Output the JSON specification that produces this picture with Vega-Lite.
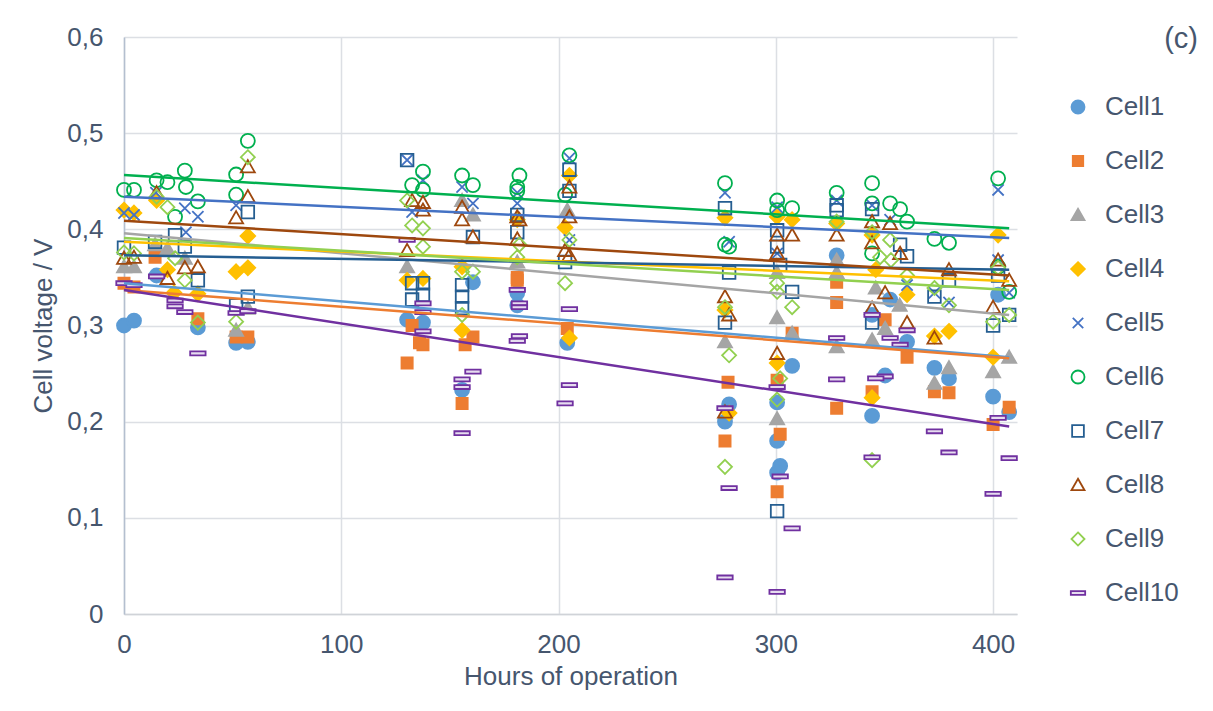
{
"$schema": "https://vega.github.io/schema/vega-lite/v6.json",
"width": 893, "height": 577,
"autosize": {"type": "none"},
"padding": {"left": 124, "top": 37, "right": 196, "bottom": 97},
"background": "white",
"title": {"text": "(c)", "anchor": "end", "frame": "group", "dx": 181, "dy": 34, "fontSize": 29, "font": "Liberation Sans", "fontWeight": "normal", "color": "#46566e"},
"config": {"view": {"stroke": null}, "font": "Liberation Sans"},
"datasets": {
"pts": [
{"c":"Cell1","h":0,"v":0.300},{"c":"Cell1","h":4.6,"v":0.305},{"c":"Cell1","h":15,"v":0.352},{"c":"Cell1","h":34,"v":0.298},{"c":"Cell1","h":51.6,"v":0.282},{"c":"Cell1","h":57,"v":0.283},{"c":"Cell1","h":130.3,"v":0.306},{"c":"Cell1","h":137.6,"v":0.303},{"c":"Cell1","h":155.6,"v":0.233},{"c":"Cell1","h":160.6,"v":0.345},{"c":"Cell1","h":181,"v":0.334},{"c":"Cell1","h":181,"v":0.321},{"c":"Cell1","h":204,"v":0.282},{"c":"Cell1","h":276.6,"v":0.2},{"c":"Cell1","h":278.5,"v":0.218},{"c":"Cell1","h":300.6,"v":0.22},{"c":"Cell1","h":300.6,"v":0.18},{"c":"Cell1","h":302,"v":0.154},{"c":"Cell1","h":300.6,"v":0.147},{"c":"Cell1","h":307.5,"v":0.258},{"c":"Cell1","h":328,"v":0.373},{"c":"Cell1","h":344.3,"v":0.311},{"c":"Cell1","h":344.3,"v":0.206},{"c":"Cell1","h":352.6,"v":0.327},{"c":"Cell1","h":350.3,"v":0.248},{"c":"Cell1","h":360.4,"v":0.283},{"c":"Cell1","h":373,"v":0.256},{"c":"Cell1","h":379.7,"v":0.245},{"c":"Cell1","h":402.3,"v":0.332},{"c":"Cell1","h":400,"v":0.226},{"c":"Cell1","h":407.4,"v":0.21},
{"c":"Cell2","h":0,"v":0.344},{"c":"Cell2","h":4.6,"v":0.340},{"c":"Cell2","h":14.3,"v":0.371},{"c":"Cell2","h":34,"v":0.307},{"c":"Cell2","h":51.6,"v":0.288},{"c":"Cell2","h":57,"v":0.288},{"c":"Cell2","h":132.6,"v":0.300},{"c":"Cell2","h":130.3,"v":0.261},{"c":"Cell2","h":136,"v":0.282},{"c":"Cell2","h":137.6,"v":0.280},{"c":"Cell2","h":155.6,"v":0.219},{"c":"Cell2","h":157,"v":0.280},{"c":"Cell2","h":160.6,"v":0.288},{"c":"Cell2","h":181,"v":0.350},{"c":"Cell2","h":181,"v":0.347},{"c":"Cell2","h":204,"v":0.297},{"c":"Cell2","h":278,"v":0.241},{"c":"Cell2","h":276.6,"v":0.180},{"c":"Cell2","h":300.6,"v":0.243},{"c":"Cell2","h":302,"v":0.187},{"c":"Cell2","h":300.6,"v":0.127},{"c":"Cell2","h":307.5,"v":0.292},{"c":"Cell2","h":328,"v":0.345},{"c":"Cell2","h":328,"v":0.324},{"c":"Cell2","h":328,"v":0.214},{"c":"Cell2","h":344.3,"v":0.231},{"c":"Cell2","h":350.3,"v":0.306},{"c":"Cell2","h":360.4,"v":0.267},{"c":"Cell2","h":373,"v":0.231},{"c":"Cell2","h":379.7,"v":0.230},{"c":"Cell2","h":400,"v":0.197},{"c":"Cell2","h":407.4,"v":0.215},
{"c":"Cell3","h":0,"v":0.361},{"c":"Cell3","h":4.6,"v":0.361},{"c":"Cell3","h":14.3,"v":0.384},{"c":"Cell3","h":20,"v":0.38},{"c":"Cell3","h":28,"v":0.37},{"c":"Cell3","h":51.6,"v":0.295},{"c":"Cell3","h":57,"v":0.318},{"c":"Cell3","h":130.3,"v":0.361},{"c":"Cell3","h":155.6,"v":0.430},{"c":"Cell3","h":160.6,"v":0.415},{"c":"Cell3","h":181,"v":0.366},{"c":"Cell3","h":204,"v":0.42},{"c":"Cell3","h":276.6,"v":0.283},{"c":"Cell3","h":300.6,"v":0.355},{"c":"Cell3","h":300.6,"v":0.308},{"c":"Cell3","h":300.6,"v":0.203},{"c":"Cell3","h":307.5,"v":0.292},{"c":"Cell3","h":328,"v":0.368},{"c":"Cell3","h":328,"v":0.355},{"c":"Cell3","h":328,"v":0.278},{"c":"Cell3","h":346,"v":0.339},{"c":"Cell3","h":357,"v":0.321},{"c":"Cell3","h":350.3,"v":0.297},{"c":"Cell3","h":344.3,"v":0.285},{"c":"Cell3","h":373,"v":0.240},{"c":"Cell3","h":379.7,"v":0.256},{"c":"Cell3","h":400,"v":0.252},{"c":"Cell3","h":407.4,"v":0.267},
{"c":"Cell4","h":0,"v":0.420},{"c":"Cell4","h":4.6,"v":0.417},{"c":"Cell4","h":15,"v":0.43},{"c":"Cell4","h":20,"v":0.358},{"c":"Cell4","h":23,"v":0.334},{"c":"Cell4","h":34,"v":0.333},{"c":"Cell4","h":51.6,"v":0.356},{"c":"Cell4","h":57,"v":0.360},{"c":"Cell4","h":57,"v":0.393},{"c":"Cell4","h":130.3,"v":0.347},{"c":"Cell4","h":137.6,"v":0.349},{"c":"Cell4","h":155.6,"v":0.361},{"c":"Cell4","h":155.6,"v":0.295},{"c":"Cell4","h":181,"v":0.41},{"c":"Cell4","h":203,"v":0.402},{"c":"Cell4","h":205,"v":0.456},{"c":"Cell4","h":205,"v":0.287},{"c":"Cell4","h":276.6,"v":0.412},{"c":"Cell4","h":276.6,"v":0.316},{"c":"Cell4","h":278.5,"v":0.209},{"c":"Cell4","h":300.6,"v":0.413},{"c":"Cell4","h":307.5,"v":0.41},{"c":"Cell4","h":300.6,"v":0.261},{"c":"Cell4","h":328,"v":0.406},{"c":"Cell4","h":344.3,"v":0.394},{"c":"Cell4","h":346,"v":0.358},{"c":"Cell4","h":360.4,"v":0.332},{"c":"Cell4","h":344.3,"v":0.225},{"c":"Cell4","h":373,"v":0.289},{"c":"Cell4","h":379.7,"v":0.294},{"c":"Cell4","h":402.3,"v":0.394},{"c":"Cell4","h":400,"v":0.267},
{"c":"Cell5","h":0,"v":0.417},{"c":"Cell5","h":4.6,"v":0.415},{"c":"Cell5","h":14.7,"v":0.438},{"c":"Cell5","h":28,"v":0.422},{"c":"Cell5","h":34,"v":0.413},{"c":"Cell5","h":28.5,"v":0.397},{"c":"Cell5","h":51.6,"v":0.425},{"c":"Cell5","h":130.3,"v":0.472},{"c":"Cell5","h":132.6,"v":0.418},{"c":"Cell5","h":137.6,"v":0.451},{"c":"Cell5","h":155.6,"v":0.444},{"c":"Cell5","h":160.6,"v":0.427},{"c":"Cell5","h":181,"v":0.438},{"c":"Cell5","h":181,"v":0.427},{"c":"Cell5","h":205,"v":0.474},{"c":"Cell5","h":205,"v":0.389},{"c":"Cell5","h":276.6,"v":0.438},{"c":"Cell5","h":278.5,"v":0.387},{"c":"Cell5","h":300.6,"v":0.423},{"c":"Cell5","h":300.6,"v":0.375},{"c":"Cell5","h":328,"v":0.43},{"c":"Cell5","h":344.3,"v":0.425},{"c":"Cell5","h":352.6,"v":0.41},{"c":"Cell5","h":360.4,"v":0.342},{"c":"Cell5","h":373,"v":0.334},{"c":"Cell5","h":379.7,"v":0.324},{"c":"Cell5","h":402.3,"v":0.441},{"c":"Cell5","h":402.3,"v":0.368},{"c":"Cell5","h":407.4,"v":0.334},
{"c":"Cell6","h":0,"v":0.441},{"c":"Cell6","h":4.6,"v":0.441},{"c":"Cell6","h":15,"v":0.451},{"c":"Cell6","h":20,"v":0.449},{"c":"Cell6","h":28,"v":0.461},{"c":"Cell6","h":28.5,"v":0.444},{"c":"Cell6","h":23.5,"v":0.413},{"c":"Cell6","h":34,"v":0.429},{"c":"Cell6","h":51.6,"v":0.457},{"c":"Cell6","h":51.6,"v":0.436},{"c":"Cell6","h":57,"v":0.492},{"c":"Cell6","h":137.6,"v":0.46},{"c":"Cell6","h":132.6,"v":0.446},{"c":"Cell6","h":137.6,"v":0.441},{"c":"Cell6","h":155.6,"v":0.456},{"c":"Cell6","h":160.6,"v":0.446},{"c":"Cell6","h":182,"v":0.456},{"c":"Cell6","h":181,"v":0.444},{"c":"Cell6","h":181,"v":0.44},{"c":"Cell6","h":205,"v":0.477},{"c":"Cell6","h":203,"v":0.436},{"c":"Cell6","h":276.6,"v":0.448},{"c":"Cell6","h":276.6,"v":0.384},{"c":"Cell6","h":278.5,"v":0.382},{"c":"Cell6","h":300.6,"v":0.43},{"c":"Cell6","h":300.6,"v":0.42},{"c":"Cell6","h":307.5,"v":0.422},{"c":"Cell6","h":328,"v":0.438},{"c":"Cell6","h":344.3,"v":0.448},{"c":"Cell6","h":344.3,"v":0.427},{"c":"Cell6","h":352.6,"v":0.427},{"c":"Cell6","h":357.2,"v":0.421},{"c":"Cell6","h":360.4,"v":0.408},{"c":"Cell6","h":344.3,"v":0.375},{"c":"Cell6","h":373,"v":0.39},{"c":"Cell6","h":379.7,"v":0.386},{"c":"Cell6","h":402.3,"v":0.453},{"c":"Cell6","h":402.3,"v":0.361},{"c":"Cell6","h":407.4,"v":0.335},
{"c":"Cell7","h":0,"v":0.381},{"c":"Cell7","h":14.3,"v":0.387},{"c":"Cell7","h":23.5,"v":0.394},{"c":"Cell7","h":28,"v":0.382},{"c":"Cell7","h":34,"v":0.347},{"c":"Cell7","h":51.6,"v":0.321},{"c":"Cell7","h":57,"v":0.418},{"c":"Cell7","h":57,"v":0.33},{"c":"Cell7","h":130.3,"v":0.472},{"c":"Cell7","h":132.6,"v":0.344},{"c":"Cell7","h":137.6,"v":0.344},{"c":"Cell7","h":132.6,"v":0.327},{"c":"Cell7","h":137.6,"v":0.332},{"c":"Cell7","h":160.6,"v":0.392},{"c":"Cell7","h":155.6,"v":0.342},{"c":"Cell7","h":155.6,"v":0.33},{"c":"Cell7","h":155.6,"v":0.318},{"c":"Cell7","h":181,"v":0.415},{"c":"Cell7","h":181,"v":0.397},{"c":"Cell7","h":205,"v":0.462},{"c":"Cell7","h":205,"v":0.44},{"c":"Cell7","h":203,"v":0.366},{"c":"Cell7","h":276.6,"v":0.422},{"c":"Cell7","h":278.5,"v":0.355},{"c":"Cell7","h":276.6,"v":0.303},{"c":"Cell7","h":300.6,"v":0.399},{"c":"Cell7","h":300.6,"v":0.382},{"c":"Cell7","h":302,"v":0.363},{"c":"Cell7","h":307.5,"v":0.335},{"c":"Cell7","h":300.6,"v":0.107},{"c":"Cell7","h":328,"v":0.425},{"c":"Cell7","h":328,"v":0.42},{"c":"Cell7","h":344.3,"v":0.421},{"c":"Cell7","h":357.2,"v":0.384},{"c":"Cell7","h":360.4,"v":0.372},{"c":"Cell7","h":344.3,"v":0.303},{"c":"Cell7","h":373,"v":0.33},{"c":"Cell7","h":379.7,"v":0.347},{"c":"Cell7","h":402.3,"v":0.352},{"c":"Cell7","h":407.4,"v":0.311},{"c":"Cell7","h":400,"v":0.3},
{"c":"Cell8","h":0,"v":0.370},{"c":"Cell8","h":4.6,"v":0.371},{"c":"Cell8","h":15,"v":0.438},{"c":"Cell8","h":20,"v":0.349},{"c":"Cell8","h":28,"v":0.36},{"c":"Cell8","h":34,"v":0.361},{"c":"Cell8","h":51.6,"v":0.412},{"c":"Cell8","h":57,"v":0.465},{"c":"Cell8","h":57,"v":0.434},{"c":"Cell8","h":132.6,"v":0.43},{"c":"Cell8","h":137.6,"v":0.428},{"c":"Cell8","h":137.6,"v":0.42},{"c":"Cell8","h":130.3,"v":0.378},{"c":"Cell8","h":155.6,"v":0.423},{"c":"Cell8","h":155.6,"v":0.41},{"c":"Cell8","h":160.6,"v":0.392},{"c":"Cell8","h":181,"v":0.413},{"c":"Cell8","h":182,"v":0.41},{"c":"Cell8","h":181,"v":0.39},{"c":"Cell8","h":205,"v":0.444},{"c":"Cell8","h":205,"v":0.413},{"c":"Cell8","h":203,"v":0.378},{"c":"Cell8","h":205,"v":0.373},{"c":"Cell8","h":276.6,"v":0.33},{"c":"Cell8","h":278.5,"v":0.311},{"c":"Cell8","h":276.6,"v":0.21},{"c":"Cell8","h":300.6,"v":0.394},{"c":"Cell8","h":307.5,"v":0.394},{"c":"Cell8","h":300.6,"v":0.375},{"c":"Cell8","h":300.6,"v":0.271},{"c":"Cell8","h":328,"v":0.394},{"c":"Cell8","h":344.3,"v":0.408},{"c":"Cell8","h":352.6,"v":0.406},{"c":"Cell8","h":344.3,"v":0.386},{"c":"Cell8","h":357.2,"v":0.375},{"c":"Cell8","h":350.3,"v":0.334},{"c":"Cell8","h":344.3,"v":0.318},{"c":"Cell8","h":360.4,"v":0.303},{"c":"Cell8","h":379.7,"v":0.358},{"c":"Cell8","h":373,"v":0.287},{"c":"Cell8","h":402.3,"v":0.368},{"c":"Cell8","h":407.4,"v":0.347},{"c":"Cell8","h":400,"v":0.319},
{"c":"Cell9","h":0,"v":0.376},{"c":"Cell9","h":4.6,"v":0.375},{"c":"Cell9","h":15,"v":0.434},{"c":"Cell9","h":20,"v":0.423},{"c":"Cell9","h":23.5,"v":0.37},{"c":"Cell9","h":28,"v":0.347},{"c":"Cell9","h":34,"v":0.303},{"c":"Cell9","h":51.6,"v":0.304},{"c":"Cell9","h":57,"v":0.475},{"c":"Cell9","h":130.3,"v":0.43},{"c":"Cell9","h":132.6,"v":0.404},{"c":"Cell9","h":137.6,"v":0.401},{"c":"Cell9","h":137.6,"v":0.382},{"c":"Cell9","h":155.6,"v":0.356},{"c":"Cell9","h":160.6,"v":0.356},{"c":"Cell9","h":155.6,"v":0.311},{"c":"Cell9","h":182,"v":0.384},{"c":"Cell9","h":181,"v":0.371},{"c":"Cell9","h":205,"v":0.389},{"c":"Cell9","h":203,"v":0.344},{"c":"Cell9","h":276.6,"v":0.319},{"c":"Cell9","h":278.5,"v":0.269},{"c":"Cell9","h":276.6,"v":0.153},{"c":"Cell9","h":300.6,"v":0.344},{"c":"Cell9","h":300.6,"v":0.335},{"c":"Cell9","h":307.5,"v":0.319},{"c":"Cell9","h":302,"v":0.245},{"c":"Cell9","h":300.6,"v":0.223},{"c":"Cell9","h":328,"v":0.408},{"c":"Cell9","h":344.3,"v":0.397},{"c":"Cell9","h":352.6,"v":0.389},{"c":"Cell9","h":348,"v":0.371},{"c":"Cell9","h":353,"v":0.368},{"c":"Cell9","h":360.4,"v":0.352},{"c":"Cell9","h":344.3,"v":0.16},{"c":"Cell9","h":373,"v":0.339},{"c":"Cell9","h":379.7,"v":0.321},{"c":"Cell9","h":402.3,"v":0.36},{"c":"Cell9","h":407.4,"v":0.311},{"c":"Cell9","h":400,"v":0.304},
{"c":"Cell10","h":0,"v":0.344},{"c":"Cell10","h":4.6,"v":0.342},{"c":"Cell10","h":15,"v":0.351},{"c":"Cell10","h":23.5,"v":0.326},{"c":"Cell10","h":23.5,"v":0.32},{"c":"Cell10","h":28,"v":0.314},{"c":"Cell10","h":34,"v":0.271},{"c":"Cell10","h":51.6,"v":0.313},{"c":"Cell10","h":57,"v":0.315},{"c":"Cell10","h":130.3,"v":0.389},{"c":"Cell10","h":137.6,"v":0.323},{"c":"Cell10","h":137.6,"v":0.314},{"c":"Cell10","h":137.6,"v":0.294},{"c":"Cell10","h":160.6,"v":0.252},{"c":"Cell10","h":155.6,"v":0.244},{"c":"Cell10","h":155.6,"v":0.236},{"c":"Cell10","h":155.6,"v":0.188},{"c":"Cell10","h":181,"v":0.337},{"c":"Cell10","h":182,"v":0.323},{"c":"Cell10","h":182,"v":0.319},{"c":"Cell10","h":182,"v":0.289},{"c":"Cell10","h":181,"v":0.284},{"c":"Cell10","h":205,"v":0.317},{"c":"Cell10","h":205,"v":0.238},{"c":"Cell10","h":203,"v":0.219},{"c":"Cell10","h":276.6,"v":0.214},{"c":"Cell10","h":278.5,"v":0.131},{"c":"Cell10","h":276.6,"v":0.038},{"c":"Cell10","h":300.6,"v":0.236},{"c":"Cell10","h":302,"v":0.143},{"c":"Cell10","h":307.5,"v":0.089},{"c":"Cell10","h":300.6,"v":0.023},{"c":"Cell10","h":328,"v":0.287},{"c":"Cell10","h":328,"v":0.244},{"c":"Cell10","h":344.3,"v":0.311},{"c":"Cell10","h":352.6,"v":0.287},{"c":"Cell10","h":357.2,"v":0.28},{"c":"Cell10","h":360.4,"v":0.295},{"c":"Cell10","h":350.3,"v":0.247},{"c":"Cell10","h":346,"v":0.245},{"c":"Cell10","h":344.3,"v":0.163},{"c":"Cell10","h":373,"v":0.19},{"c":"Cell10","h":379.7,"v":0.168},{"c":"Cell10","h":402.3,"v":0.204},{"c":"Cell10","h":407.4,"v":0.162},{"c":"Cell10","h":400,"v":0.125}
],
"trend": [
{"c":"Cell1","h":0,"v":0.344},{"c":"Cell1","h":407.4,"v":0.267},
{"c":"Cell2","h":0,"v":0.337},{"c":"Cell2","h":407.4,"v":0.266},
{"c":"Cell3","h":0,"v":0.396},{"c":"Cell3","h":407.4,"v":0.311},
{"c":"Cell4","h":0,"v":0.387},{"c":"Cell4","h":407.4,"v":0.346},
{"c":"Cell5","h":0,"v":0.434},{"c":"Cell5","h":407.4,"v":0.391},
{"c":"Cell6","h":0,"v":0.4565},{"c":"Cell6","h":407.4,"v":0.401},
{"c":"Cell7","h":0,"v":0.373},{"c":"Cell7","h":407.4,"v":0.358},
{"c":"Cell8","h":0,"v":0.409},{"c":"Cell8","h":407.4,"v":0.352},
{"c":"Cell9","h":0,"v":0.391},{"c":"Cell9","h":407.4,"v":0.337},
{"c":"Cell10","h":0,"v":0.337},{"c":"Cell10","h":407.4,"v":0.195}
]
},
"layer": [
{
"data": {"name": "pts"},
"mark": {"type": "point", "opacity": 1, "strokeWidth": 1.8, "size": 196},
"encoding": {
"x": {"field": "h", "type": "quantitative", "scale": {"domain": [0, 411], "nice": false, "zero": false},
 "axis": {"values": [0, 100, 200, 300, 400], "title": "Hours of operation", "titleFontSize": 26, "titleFontWeight": "normal", "titleColor": "#46566e", "titlePadding": 6, "labelFontSize": 26, "labelColor": "#46566e", "labelPadding": 17, "labelFlush": false, "ticks": false, "grid": true, "gridColor": "#dcdfe4", "gridWidth": 1.5, "domainColor": "#d0d3d8", "domainWidth": 1.5, "labelFont": "Liberation Sans", "titleFont": "Liberation Sans"}},
"y": {"field": "v", "type": "quantitative", "scale": {"domain": [0, 0.6], "nice": false},
 "axis": {"values": [0, 0.1, 0.2, 0.3, 0.4, 0.5, 0.6], "labelExpr": "datum.value == 0 ? '0' : replace(format(datum.value, '.1f'), '.', ',')", "title": "Cell voltage / V", "titleFontSize": 26, "titleFontWeight": "normal", "titleColor": "#46566e", "titlePadding": 10, "labelFontSize": 26, "labelColor": "#46566e", "labelPadding": 21, "labelFlush": false, "ticks": false, "grid": true, "gridColor": "#dcdfe4", "gridWidth": 1.5, "domainColor": "#b4bfcf", "domainWidth": 1.5, "labelFont": "Liberation Sans", "titleFont": "Liberation Sans"}},
"shape": {"field": "c", "type": "nominal",
 "scale": {"domain": ["Cell1","Cell2","Cell3","Cell4","Cell5","Cell6","Cell7","Cell8","Cell9","Cell10"],
  "range": ["circle", "M-0.8,-0.8H0.8V0.8H-0.8Z", "M0,-0.95L1,0.8L-1,0.8Z", "M0,-1.05L1.05,0L0,1.05L-1.05,0Z", "M-0.8,-0.8L0.8,0.8M-0.8,0.8L0.8,-0.8", "circle", "M-0.9,-0.9H0.9V0.9H-0.9Z", "M0,-0.95L1,0.8L-1,0.8Z", "M0,-1L1,0L0,1L-1,0Z", "M-1.1,-0.28H1.1V0.28H-1.1Z"]},
 "legend": {"title": null, "orient": "none", "legendX": 941, "legendY": 57, "labelFontSize": 26, "labelColor": "#46566e", "labelFont": "Liberation Sans", "symbolSize": 170, "rowPadding": 28, "labelOffset": 14, "symbolStrokeWidth": 1.8}},
"fill": {"field": "c", "type": "nominal",
 "scale": {"domain": ["Cell1","Cell2","Cell3","Cell4","Cell5","Cell6","Cell7","Cell8","Cell9","Cell10"],
  "range": ["#5b9bd5", "#ed7d31", "#a5a5a5", "#ffc000", "transparent", "transparent", "transparent", "transparent", "transparent", "#e6dcef"]}},
"stroke": {"field": "c", "type": "nominal",
 "scale": {"domain": ["Cell1","Cell2","Cell3","Cell4","Cell5","Cell6","Cell7","Cell8","Cell9","Cell10"],
  "range": ["#5b9bd5", "#ed7d31", "#a5a5a5", "#ffc000", "#4472c4", "#00b04f", "#255e91", "#9e480e", "#92d050", "#7030a0"]}}
}
},
{
"data": {"name": "trend"},
"mark": {"type": "line", "strokeWidth": 2.5},
"encoding": {
"x": {"field": "h", "type": "quantitative"},
"y": {"field": "v", "type": "quantitative"},
"color": {"field": "c", "type": "nominal", "legend": null,
 "scale": {"domain": ["Cell1","Cell2","Cell3","Cell4","Cell5","Cell6","Cell7","Cell8","Cell9","Cell10"],
  "range": ["#5b9bd5", "#ed7d31", "#a5a5a5", "#ffc000", "#4472c4", "#00b04f", "#255e91", "#9e480e", "#92d050", "#7030a0"]}}
}
}
]
}
